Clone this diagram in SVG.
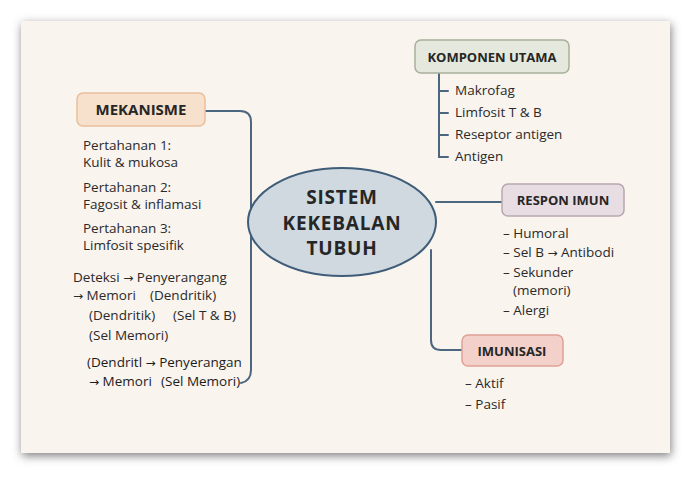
<svg xmlns="http://www.w3.org/2000/svg" width="693" height="477" viewBox="0 0 693 477">
<defs>
<filter id="sh" x="-10%" y="-10%" width="120%" height="125%">
<feDropShadow dx="1" dy="3" stdDeviation="5" flood-color="#000" flood-opacity="0.5"/>
</filter>
</defs>
<style>
.t{font-family:"Open Sans","Noto Sans","Liberation Sans",sans-serif;font-size:13.5px;fill:#2a2a2a}
.h{font-family:"Open Sans","Noto Sans","Liberation Sans",sans-serif;font-size:14px;font-weight:700;fill:#262626;text-anchor:middle}
.c{font-family:"Open Sans","Noto Sans","Liberation Sans",sans-serif;font-size:19px;font-weight:700;fill:#262626;text-anchor:middle;letter-spacing:0.8px}
.ln{fill:none;stroke:#4d6680;stroke-width:2;stroke-linecap:round}
.d{fill:#1c1c1c}
.a{font-family:"DejaVu Sans",sans-serif;font-size:12px}
</style>
<rect width="693" height="477" fill="#ffffff"/>
<rect x="21" y="21" width="649" height="432" fill="#f9f4ee" filter="url(#sh)"/>

<g id="connectors">
<path class="ln" d="M205 111 H240 Q251 111 251 122 V370 Q251 381 241 383"/>
<path class="ln" d="M436 202 H502"/>
<path class="ln" d="M431 250 V340 Q431 350 441 350 H462"/>
<path class="ln" d="M439 73 V157 H448 M439 91 H448 M439 113 H448 M439 135 H448"/>
</g>

<g id="center">
<ellipse cx="342" cy="222" rx="94" ry="54" fill="#cfd9df" stroke="#3f5c78" stroke-width="2"/>
<text class="c" x="342" y="204">SISTEM</text>
<text class="c" x="342" y="229.5">KEKEBALAN</text>
<text class="c" x="342" y="255">TUBUH</text>
</g>

<g id="mekanisme">
<rect x="77" y="93" width="128" height="33" rx="6" fill="#f8e1cc" stroke="#e9be9a" stroke-width="1.5"/>
<text class="h" x="141" y="115" style="font-size:15px">MEKANISME</text>
<text class="t" x="83" y="150">Pertahanan 1:</text>
<text class="t" x="83" y="167">Kulit &amp; mukosa</text>
<text class="t" x="83" y="192">Pertahanan 2:</text>
<text class="t" x="83" y="209">Fagosit &amp; inflamasi</text>
<text class="t" x="83" y="233">Pertahanan 3:</text>
<text class="t" x="83" y="250">Limfosit spesifik</text>
<text class="t" x="73" y="282">Deteksi <tspan class="a">→</tspan> Penyerangang</text>
<text class="t" x="73" y="300"><tspan class="a">→</tspan> Memori</text>
<text class="t" x="150" y="300">(Dendritik)</text>
<text class="t" x="89" y="320">(Dendritik)</text>
<text class="t" x="173" y="320">(Sel T &amp; B)</text>
<text class="t" x="89" y="340">(Sel Memori)</text>
<text class="t d" x="87" y="367">(Dendritl <tspan class="a">→</tspan> Penyerangan</text>
<text class="t d" x="89" y="386"><tspan class="a">→</tspan> Memori</text>
<text class="t d" x="161" y="386">(Sel Memori)</text>
</g>

<g id="komponen">
<rect x="415" y="40" width="154" height="33" rx="6" fill="#e5e8dc" stroke="#a8b09b" stroke-width="1.5"/>
<text class="h" x="492" y="62" style="font-size:13px">KOMPONEN UTAMA</text>
<text class="t" x="455" y="95">Makrofag</text>
<text class="t" x="455" y="117">Limfosit T &amp; B</text>
<text class="t" x="455" y="139">Reseptor antigen</text>
<text class="t" x="455" y="161">Antigen</text>
</g>

<g id="respon">
<rect x="502" y="184" width="122" height="32" rx="6" fill="#e8dde2" stroke="#b8a6ae" stroke-width="1.5"/>
<text class="h" x="563" y="205" style="font-size:13px">RESPON IMUN</text>
<text class="t" x="503" y="238">– Humoral</text>
<text class="t" x="503" y="257">– Sel B <tspan class="a">→</tspan> Antibodi</text>
<text class="t" x="503" y="277">– Sekunder</text>
<text class="t" x="513" y="295">(memori)</text>
<text class="t" x="503" y="315">– Alergi</text>
</g>

<g id="imunisasi">
<rect x="462" y="335" width="101" height="31" rx="6" fill="#f3d0c9" stroke="#e0a196" stroke-width="1.5"/>
<text class="h" x="512" y="356" style="font-size:13px">IMUNISASI</text>
<text class="t" x="465" y="388">– Aktif</text>
<text class="t" x="465" y="409">– Pasif</text>
</g>
</svg>
